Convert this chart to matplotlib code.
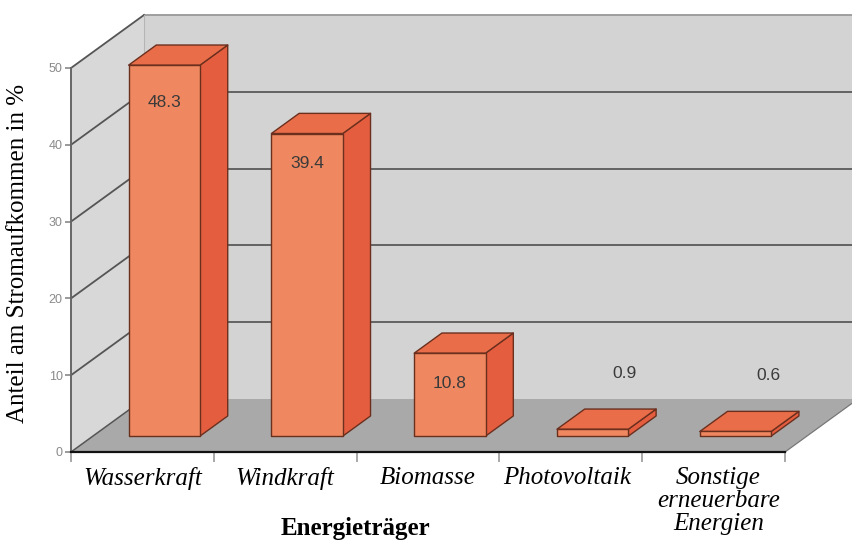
import matplotlib
matplotlib.use('Agg')
import matplotlib.pyplot as plt
from matplotlib.patches import Polygon
from matplotlib.transforms import ScaledTranslation

# Data
categories = ['Wasserkraft', 'Windkraft', 'Biomasse', 'Photovoltaik', 'Sonstige\nerneuerbare\nEnergien']
values = [48.3, 39.4, 10.8, 0.9, 0.6]
value_labels = ['48.3', '39.4', '10.8', '0.9', '0.6']
y_ticks = [0, 10, 20, 30, 40, 50]

# Fake 3D: how far the back of the box is shifted, in data units
DEPTH_X = 0.511
DEPTH_Y = 6.9


def proj(x, v, d):
    return (x + d * DEPTH_X, v + d * DEPTH_Y)


def face(ax, points, color, edge='none', lw=0.0, z=1):
    ax.add_patch(Polygon(points, closed=True, facecolor=color, edgecolor=edge,
                         linewidth=lw, clip_on=False, zorder=z, joinstyle='round'))


fig = plt.figure(figsize=(8.52, 5.4), dpi=100)
ax = fig.add_axes([71 / 852, (540 - 452) / 540, 714 / 852, 384 / 540])
ax.set_xlim(0, 5)
ax.set_ylim(0, 50)
ax.patch.set_visible(False)

# walls and floor
face(ax, [proj(0, 0, 1), proj(5, 0, 1), proj(5, 50, 1), proj(0, 50, 1)], '#d3d3d3')
face(ax, [proj(0, 0, 0), proj(0, 0, 1), proj(0, 50, 1), proj(0, 50, 0)], '#d8d8d8')
face(ax, [proj(0, 0, 0), proj(5, 0, 0), proj(5, 0, 1), proj(0, 0, 1)], '#a9a9a9')

# grid lines on side wall and back wall
for t in y_ticks:
    x0, y0 = proj(0, t, 0)
    x1, y1 = proj(0, t, 1)
    x2, y2 = proj(5, t, 1)
    if t == 0:
        ax.plot([x0, x1], [y0, y1], color='#555555', lw=1.1, clip_on=False, zorder=1.5)
        continue
    c = '#999999' if t == 50 else '#5a5a5a'
    ax.plot([x1, x2], [y1, y2], color=c, lw=1.3, clip_on=False, zorder=1.5)
    ax.plot([x0, x1], [y0, y1], color='#555555', lw=1.3, clip_on=False, zorder=1.5)
ax.plot(*zip(proj(0, 0, 1), proj(0, 50, 1)), color='#b5b5b5', lw=0.8, clip_on=False, zorder=1.5)
ax.plot(*zip(proj(5, 0, 0), proj(5, 0, 1)), color='#777777', lw=0.9, clip_on=False, zorder=1.5)

# bars
edge = '#6b2f1e'
half = 0.25
d0, d1 = 0.3, 0.68
for i, v in enumerate(values):
    c = i + 0.5
    l, r = c - half, c + half
    face(ax, [proj(r, 0, d0), proj(r, 0, d1), proj(r, v, d1), proj(r, v, d0)], '#e55d3f', edge, 1.0, 2)
    face(ax, [proj(l, v, d0), proj(r, v, d0), proj(r, v, d1), proj(l, v, d1)], '#e96d49', edge, 1.0, 2)
    face(ax, [proj(l, 0, d0), proj(r, 0, d0), proj(r, v, d0), proj(l, v, d0)], '#ef8860', edge, 1.0, 2)

# value labels, pixel offsets from top of the front face
label_offset = [(0, -37), (0, -30), (0, -30), (32, 56), (33, 56)]
for i, v in enumerate(values):
    px, py = proj(i + 0.5, v, d0)
    ax.annotate(value_labels[i], (px, py), xytext=(label_offset[i][0] * 0.72, label_offset[i][1] * 0.72),
                textcoords='offset points', ha='center', va='center', fontsize=12.5,
                family='Liberation Sans', color='#3a3a3a', zorder=3, annotation_clip=False)

# axes
for s in ['top', 'right']:
    ax.spines[s].set_visible(False)
ax.spines['left'].set_color('#666666')
ax.spines['left'].set_linewidth(1.4)
ax.spines['bottom'].set_color('#111111')
ax.spines['bottom'].set_linewidth(1.6)
ax.set_yticks(y_ticks)
ax.set_yticklabels([str(t) for t in y_ticks], fontsize=9, family='Liberation Sans', color='#8a8a8a')
ax.tick_params(axis='y', length=4, width=1.2, color='#888888', pad=2)
ax.set_xticks(range(6))
ax.set_xticklabels([])
ax.tick_params(axis='x', which='major', length=7, width=1.2, color='#999999')
ax.set_xticks([i + 0.5 for i in range(5)], minor=True)
labels = ax.set_xticklabels(categories, minor=True, fontsize=18, fontfamily='Liberation Serif',
                            fontstyle='italic', linespacing=1.05)
ax.tick_params(axis='x', which='minor', length=0, pad=11)
# nudge the two long labels like the original
labels[3].set_transform(labels[3].get_transform() + ScaledTranslation(-4 / 100, 0, fig.dpi_scale_trans))
labels[4].set_transform(labels[4].get_transform() + ScaledTranslation(5 / 100, 0, fig.dpi_scale_trans))

ax.set_xlabel('Energieträger', fontsize=18, family='Liberation Serif', weight='bold')
ax.xaxis.set_label_coords(0.398, -0.168)
ax.set_ylabel('Anteil am Stromaufkommen in %', fontsize=18, family='Liberation Serif')
ax.yaxis.set_label_coords(-0.059, 0.516)

plt.savefig('out.png', dpi=100)
